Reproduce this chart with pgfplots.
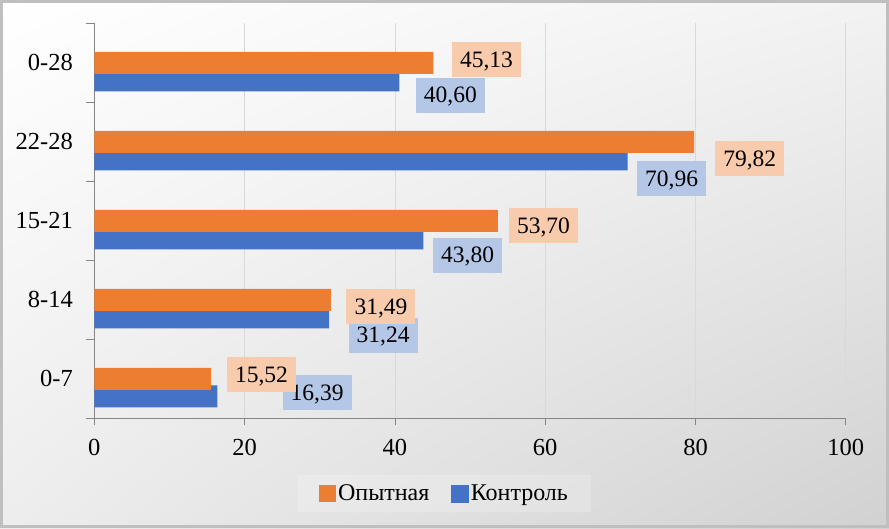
\documentclass[border=0pt]{standalone}
\usepackage{fontspec}
\setmainfont{Liberation Serif}
\usepackage{pgfplots}
\usepackage{pgfplotstable}
\usetikzlibrary{shadings}
\pgfplotsset{compat=1.18}
\definecolor{corange}{HTML}{ED7D31}
\definecolor{cblue}{HTML}{4472C4}
\definecolor{lorange}{HTML}{F8CBAD}
\definecolor{lblue}{HTML}{B4C7E7}
\definecolor{gridc}{HTML}{D9D9D9}
\definecolor{axc}{HTML}{868686}
\definecolor{framec}{HTML}{BFBFBF}

% y: 0 = 0-7, 1 = 8-14, 2 = 15-21, 3 = 22-28, 4 = 0-28
\pgfplotstableread{
y x dx dy
0 15.52 50.6 4.3
1 31.49 50.0 -6.5
2 53.70 45.6 -4.5
3 79.82 55.6 -16.7
4 45.13 53.0 3.5
}\opyt
\pgfplotstableread{
y x dx dy
0 16.39 99.6 -13.7
1 31.24 54.0 -35.2
2 43.80 44.2 -34.2
3 70.96 44.0 -36.7
4 40.60 51.0 -32.4
}\kontr

\begin{document}
\begin{tikzpicture}[x=1pt,y=1pt]
\shade[upper left=white, upper right=gray!10, lower left=gray!14, lower right=gray!36] (0,0) rectangle (889,528);
\draw[framec, line width=3pt] (1.5,1.5) rectangle (887.5,526.5);
\path[use as bounding box] (0,0) rectangle (889,528);
\begin{axis}[
  at={(94.3pt,109.7pt)}, anchor=south west,
  scale only axis, width=751.5pt, height=395pt,
  xmin=0, xmax=100, ymin=-0.5, ymax=4.5,
  xtick={0,20,...,100},
  ytick={0,...,4}, yticklabels={0-7,8-14,15-21,22-28,0-28},
  minor ytick={-0.5,0.5,...,4.5},
  xmajorgrids, major grid style={draw=gridc, line width=0.75pt},
  axis x line*=bottom, axis y line*=left,
  axis line style={draw=axc, line width=0.75pt, -},
  tick align=outside,
  major tick length=7pt, minor tick length=8pt,
  major y tick style={draw=none},
  minor y tick style={draw=axc, line width=0.75pt},
  major x tick style={draw=axc, line width=0.75pt},
  /pgf/number format/assume math mode=true,
  tick label style={font=\fontsize{24.5}{28}\selectfont, text=black},
  xticklabel style={yshift=-10pt},
  yticklabel style={xshift=-11pt},
  legend style={at={(0.466,-0.19)}, anchor=center, fill=white, fill opacity=0.2, text opacity=1,
    draw=none, font=\fontsize{24}{28}\selectfont, legend columns=2,
    /tikz/every even column/.append style={column sep=20pt},
    inner xsep=21pt, inner ysep=8pt},
  legend cell align=left,
]
\addplot[xbar, fill=cblue, draw=none, bar width=0.278, bar shift=-0.2215, forget plot,
  point meta=x,
  visualization depends on={\thisrow{dx} \as \dx},
  visualization depends on={\thisrow{dy} \as \dy},
  nodes near coords={\pgfmathprintnumber[fixed,fixed zerofill,precision=2,use comma]{\pgfplotspointmeta}},
  nodes near coords style={anchor=center, fill=lblue, text=black, xshift=\dx pt, yshift=\dy pt,
    minimum width=69pt, inner xsep=0pt, inner ysep=9.75pt, text height=15.5pt, text depth=0pt,
    font=\fontsize{23.5}{27}\selectfont}]
  table[x=x, y=y] {\kontr};
\addplot[xbar, fill=corange, draw=none, bar width=0.278, bar shift=0,
  legend image code/.code={\fill[corange, fill opacity=1] (0pt,-8.5pt) rectangle (17pt,8.5pt);},
  point meta=x,
  visualization depends on={\thisrow{dx} \as \dx},
  visualization depends on={\thisrow{dy} \as \dy},
  nodes near coords={\pgfmathprintnumber[fixed,fixed zerofill,precision=2,use comma]{\pgfplotspointmeta}},
  nodes near coords style={anchor=center, fill=lorange, text=black, xshift=\dx pt, yshift=\dy pt,
    minimum width=69pt, inner xsep=0pt, inner ysep=9.75pt, text height=15.5pt, text depth=0pt,
    font=\fontsize{23.5}{27}\selectfont}]
  table[x=x, y=y] {\opyt};
\addlegendentry{Опытная}
\addlegendimage{legend image code/.code={\fill[cblue, fill opacity=1] (0pt,-8.5pt) rectangle (17pt,8.5pt);}}
\addlegendentry{Контроль}
\end{axis}
\end{tikzpicture}
\end{document}
